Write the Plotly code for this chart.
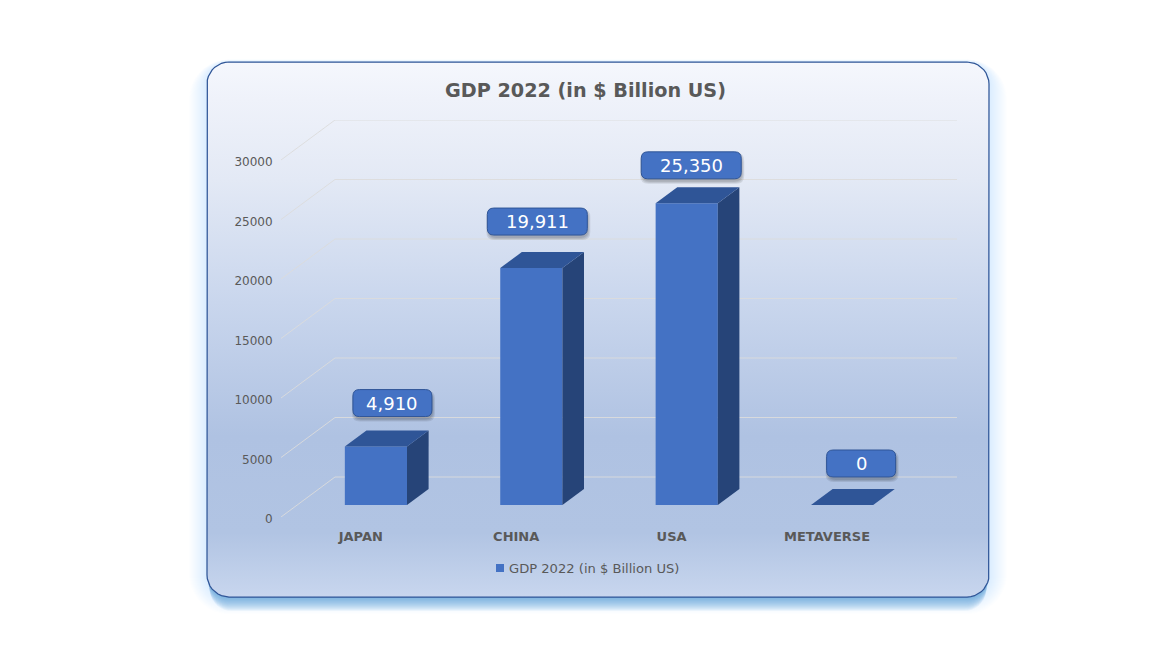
import numpy as np
import plotly.graph_objects as go

# ---- data ----
categories = ["JAPAN", "CHINA", "USA", "METAVERSE"]
gdp_values = [4910, 19911, 25350, 0]
series_name = "GDP 2022 (in $ Billion US)"
chart_title = "GDP 2022 (in $ Billion US)"
y_ticks = [0, 5000, 10000, 15000, 20000, 25000, 30000]

# ---- style: per-label pill placement (pixels from the bar's front top centre) ----
label_dx = [16.5, 6, 4.5, 19]
label_dy = [43.5, 46.5, 38, 41.5]
label_w = [79, 100, 100, 69]
LABEL_H = 27

W, H = 1171, 657
FONT = "DejaVu Sans"
TXT = "#595959"
FRONT, TOP, SIDE = "#4472c4", "#2f5597", "#264478"

# pseudo-3D depth in axis units
PX_X, PX_Y = 155.4, 0.0119          # pixels per category / per value
DEPTH_X = 54 / PX_X
DEPTH_Y = 40 / PX_Y
X0 = (281 - 360.8) / PX_X
X1 = (957 - 360.8) / PX_X
BAR_W = 0.4
NEAR_X, NEAR_Y, DEEP = 0.28, 0.3, 0.4   # bar position within floor depth
base_y = NEAR_Y * DEPTH_Y
shift_x = NEAR_X * DEPTH_X
deep_x = DEEP * DEPTH_X
deep_y = DEEP * DEPTH_Y


def round_rect(x0, y0, x1, y1, r, n=10):
    t = np.linspace(0, np.pi / 2, n)
    xs, ys = [], []
    for cx, cy, a in [(x1 - r, y0 + r, -np.pi / 2), (x1 - r, y1 - r, 0),
                      (x0 + r, y1 - r, np.pi / 2), (x0 + r, y0 + r, np.pi)]:
        xs += list(cx + r * np.cos(t + a))
        ys += list(cy + r * np.sin(t + a))
    return xs + xs[:1], ys + ys[:1]


def pill_path(w, h, r, ox=0, oy=0):
    l, R, b, t = ox - w / 2, ox + w / 2, oy - h / 2, oy + h / 2
    return (f"M{l + r},{b} L{R - r},{b} Q{R},{b} {R},{b + r} L{R},{t - r} Q{R},{t} {R - r},{t} "
            f"L{l + r},{t} Q{l},{t} {l},{t - r} L{l},{b + r} Q{l},{b} {l + r},{b} Z")


fig = go.Figure()
shapes = []

# soft outer glow of the panel: wide and pale all round, then stronger below the bottom edge
for e in range(18, 0, -1):
    xs, ys = round_rect(207 - e, 62 - e * 0.15, 989 + e, 597 + e * 0.95, 22 + e)
    p = "M" + " L".join(f"{a:.1f},{b:.1f}" for a, b in zip(xs, ys)) + " Z"
    shapes.append(dict(type="path", path=p, xref="x", yref="y", layer="below",
                       line=dict(width=0), fillcolor="rgba(91,155,213,0.012)"))
for e in range(14, 0, -1):
    xs, ys = round_rect(207 + e * 0.2, 70, 989 - e * 0.2, 597 + e, 22)
    p = "M" + " L".join(f"{a:.1f},{b:.1f}" for a, b in zip(xs, ys)) + " Z"
    shapes.append(dict(type="path", path=p, xref="x", yref="y", layer="below",
                       line=dict(width=0), fillcolor="rgba(91,155,213,0.07)"))

# panel with vertical gradient
px, py = round_rect(207, 62, 989, 597, 22)
fig.add_trace(go.Scatter(
    x=px, y=py, xaxis="x", yaxis="y", mode="lines", fill="toself",
    line=dict(color="#2f5597", width=1.25), hoverinfo="skip", showlegend=False,
    fillgradient=dict(type="vertical", colorscale=[
        [0.0, "#c8d6ee"], [0.12, "#b1c4e3"], [0.30, "#afc2e2"], [0.55, "#c9d6ed"],
        [0.78, "#e3e9f5"], [0.93, "#eff2fa"], [1.0, "#f5f7fd"]]),
))

# receding grid lines, one per tick
for v in y_ticks:
    vb = v + DEPTH_Y
    for a, b, c, d in [(X0, v, X0 + DEPTH_X, vb), (X0 + DEPTH_X, vb, X1, vb)]:
        shapes.append(dict(type="line", x0=a, y0=b, x1=c, y1=d, xref="x2", yref="y2", layer="below",
                           line=dict(color="rgba(220,220,220,0.9)", width=1)))

# bars: front face
positions = [i + shift_x for i in range(len(categories))]
fig.add_trace(go.Bar(
    x=positions, y=gdp_values, base=[base_y] * len(gdp_values), width=BAR_W, xaxis="x2", yaxis="y2",
    name=series_name, marker=dict(color=FRONT, line=dict(width=0)), showlegend=False,
))

# bars: side and top faces
for xc, v in zip(positions, gdp_values):
    l, r, b, t = xc - BAR_W / 2, xc + BAR_W / 2, base_y, base_y + v
    if v > 0:
        fig.add_trace(go.Scatter(x=[r, r, r + deep_x, r + deep_x, r], y=[b, t, t + deep_y, b + deep_y, b],
                                 xaxis="x2", yaxis="y2", mode="lines", fill="toself", fillcolor=SIDE,
                                 line=dict(width=0), hoverinfo="skip", showlegend=False))
    fig.add_trace(go.Scatter(x=[l, r, r + deep_x, l + deep_x, l], y=[t, t, t + deep_y, t + deep_y, t],
                             xaxis="x2", yaxis="y2", mode="lines", fill="toself", fillcolor=TOP,
                             line=dict(width=0), hoverinfo="skip", showlegend=False))

# data-label pills
annotations = []
for xc, v, dx, dy, w in zip(positions, gdp_values, label_dx, label_dy, label_w):
    anchor = dict(xref="x2", yref="y2", xsizemode="pixel", ysizemode="pixel",
                  xanchor=xc, yanchor=base_y + v, type="path")
    for k in range(3):
        shapes.append(dict(anchor, path=pill_path(w + 4 - 2 * k, LABEL_H + 4 - 2 * k, 8, dx + 1, dy - 3),
                           line=dict(width=0), fillcolor="rgba(0,0,0,0.09)"))
    shapes.append(dict(anchor, path=pill_path(w, LABEL_H, 6.5, dx, dy),
                       line=dict(color="#2f5597", width=1), fillcolor=FRONT))
    annotations.append(dict(x=xc, y=base_y + v, xref="x2", yref="y2", text=f"{v:,}", showarrow=False,
                            xshift=dx, yshift=dy, font=dict(family=FONT, size=18, color="white")))

# legend
shapes.append(dict(type="rect", xref="x", yref="y", x0=496, x1=504, y0=564, y1=572,
                   fillcolor=FRONT, line=dict(width=0)))
annotations.append(dict(x=507, y=568, xref="x", yref="y", xanchor="left", text=series_name, showarrow=False,
                        font=dict(family=FONT, size=13.1, color=TXT)))

fig.update_layout(
    width=W, height=H, margin=dict(l=0, r=0, t=0, b=0, pad=0, autoexpand=False), autosize=False,
    paper_bgcolor="white", plot_bgcolor="rgba(0,0,0,0)", showlegend=False, hovermode=False,
    title=dict(text=f"<b>{chart_title}</b>", x=585.5 / W, xanchor="center", y=1 - 90 / H, yanchor="middle",
               font=dict(family=FONT, size=19.2, color=TXT)),
    xaxis=dict(domain=[0, 1], range=[0, W], visible=False, fixedrange=True),
    yaxis=dict(domain=[0, 1], range=[H, 0], visible=False, fixedrange=True),
    xaxis2=dict(domain=[281 / W, 957 / W], range=[X0, X1], anchor="y2", showgrid=False, zeroline=False,
                showline=False, tickmode="array", tickvals=list(range(len(categories))), ticktext=categories,
                ticks="outside", ticklen=7, tickcolor="rgba(0,0,0,0)", automargin=False,
                tickfont=dict(family=FONT, size=13, color=TXT, weight=700), fixedrange=True),
    yaxis2=dict(domain=[1 - 517 / H, 1 - 120 / H], range=[0, 397 / PX_Y], anchor="x2", showgrid=False,
                zeroline=False, showline=False, tickmode="array", tickvals=y_ticks, automargin=False,
                ticktext=[str(t) for t in y_ticks], ticks="outside", ticklen=5, tickcolor="rgba(0,0,0,0)",
                ticklabelshift=2, tickfont=dict(family=FONT, size=12, color=TXT), fixedrange=True),
    shapes=shapes, annotations=annotations,
)

# remove the browser's default page margin so the figure fills the window exactly
post = ("document.body.style.margin='0';document.documentElement.style.overflow='hidden';"
        "var g=document.getElementById('{plot_id}');g.style.width='1171px';g.style.height='657px';"
        "Plotly.relayout(g,{width:1171,height:657});")
fig.write_html("out.html", config=dict(displayModeBar=False), post_script=post)
